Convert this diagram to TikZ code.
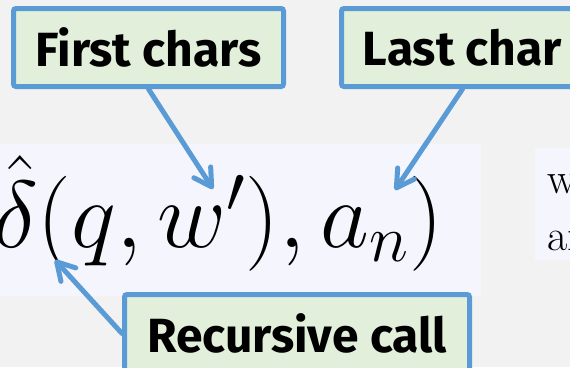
\RequirePackage{fix-cm}
\documentclass[tikz,border=0pt]{standalone}
\usepackage{fontspec}
\newfontfamily\fira{Fira Sans}
\usetikzlibrary{arrows.meta}
\definecolor{bg}{HTML}{F2F2F2}
\definecolor{panel}{HTML}{F5F5FD}
\definecolor{callblue}{HTML}{5B9BD5}
\definecolor{callfill}{HTML}{E2EFDA}
\pgfdeclarelayer{bottom}
\pgfdeclarelayer{back}
\pgfsetlayers{bottom,back,main}
\tikzset{
  callout/.style={draw=callblue, line width=5pt, fill=callfill, rounded corners=2.5pt,
    inner sep=0pt, font=\fira\bfseries\fontsize{48}{52}\selectfont, minimum height=78pt},
  pointer/.style={draw=callblue, line width=5pt, line cap=round,
    -{Straight Barb[angle=60:20pt, round]}},
  sidetext/.style={anchor=base west, inner sep=0pt, font=\fontsize{44}{50}\selectfont},
}
\begin{document}
\begin{tikzpicture}[x=1pt,y=-1pt]
\useasboundingbox (0,0) rectangle (570,367);
\clip (0,0) rectangle (570,367);
\begin{pgfonlayer}{bottom}
\fill[bg] (0,0) rectangle (570,367);
\fill[panel] (0,144) rectangle (481,296);
\fill[panel] (535,148) rectangle (570,260);
\node[anchor=base east, inner sep=0pt, font=\fontsize{95}{100}\selectfont] (formula) at (443,247) {$\hat{\delta}(q,w'),a_n)$};
\node[sidetext] (where) at (547,193) {where};
\node[sidetext] (and) at (547,250) {and};
\end{pgfonlayer}
\coordinate (tip1) at (213,189);
\coordinate (tip2) at (395,190);
\coordinate (tip3) at (55,260);
\node[callout, minimum width=270pt] (first) at (148.5,47.5) {First chars};
\node[callout, minimum width=242pt] (last) at (462.5,47.5) {Last char};
\node[callout, minimum width=345pt] (rec) at (297,333.5) {Recursive call};
\begin{pgfonlayer}{back}
\draw[pointer] (first.south) -- (tip1);
\draw[pointer] (last.south) -- (tip2);
\draw[pointer] (rec.west) -- (tip3);
\end{pgfonlayer}
\end{tikzpicture}
\end{document}
